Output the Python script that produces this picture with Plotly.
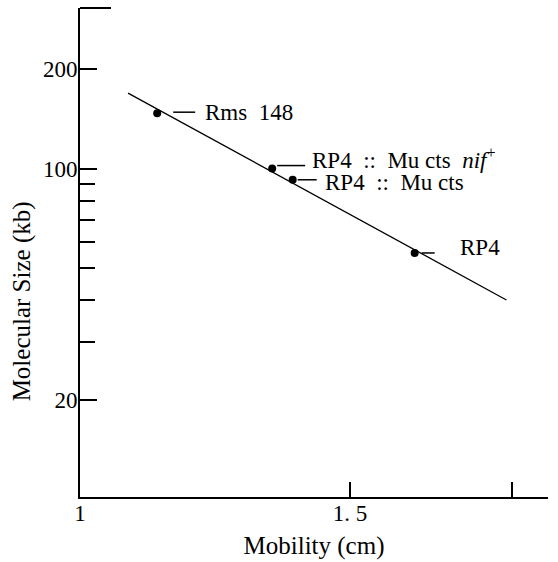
import math
import plotly.graph_objects as go

# Data
mobility = [1.143, 1.356, 1.394, 1.620]
size_kb = [147, 100, 92.5, 55.6]
labels = ["Rms\u00a0\u00a0148",
          "RP4\u00a0\u00a0::\u00a0\u00a0Mu\u00a0cts\u00a0\u00a0<i>nif</i><sup>+</sup>",
          "RP4\u00a0\u00a0::\u00a0\u00a0Mu\u00a0cts",
          "RP4"]
fit_x = [1.089, 1.79]
fit_y = [169, 40.1]
y_ticks = [20, 100, 200]
y_minor = [30, 40, 50, 60, 70, 80, 90]
x_ticks = [1, 1.5]
x_ticktext = ["1", "1. 5"]
x_minor = [1.8]

# label layout offsets (pixels): leader start, leader end, leader dy, text x, text dy
leader = [(16, 38, 1, 46, 1), (5, 33, 3, 38, 10), (5, 24, 0, 30, -3), (7, 20, 0, 43, 5)]

FONT = "Liberation Serif, Times New Roman, serif"

fig = go.Figure()
fig.add_trace(go.Scatter(x=fit_x, y=fit_y, mode="lines",
                         line=dict(color="black", width=1.3), showlegend=False))
fig.add_trace(go.Scatter(x=mobility, y=size_kb, mode="markers",
                         marker=dict(color="black", size=8), showlegend=False))

shapes = []
annotations = []
for xv, yv, lab, (l0, l1, ldy, tx, tdy) in zip(mobility, size_kb, labels, leader):
    shapes.append(dict(type="line", xref="x", yref="y",
                       xsizemode="pixel", ysizemode="pixel",
                       xanchor=xv, yanchor=yv,
                       x0=l0, x1=l1, y0=ldy, y1=ldy,
                       line=dict(color="black", width=1.5)))
    annotations.append(dict(x=xv, y=math.log10(yv), xref="x", yref="y",
                            text=lab, showarrow=False, xanchor="left",
                            yanchor="middle", xshift=tx, yshift=tdy,
                            font=dict(family=FONT, size=23, color="black")))

# cap tick at the top of the y axis
shapes.append(dict(type="line", xref="paper", yref="paper",
                   xsizemode="pixel", xanchor=0, x0=0, x1=31, y0=1, y1=1,
                   line=dict(color="black", width=2)))

annotations.append(dict(text="Molecular Size (kb)", xref="paper", yref="paper",
                        x=-0.124, y=0.40, textangle=-90, showarrow=False,
                        xanchor="center", yanchor="middle",
                        font=dict(family=FONT, size=25, color="black")))

fig.update_layout(
    width=558, height=562,
    margin=dict(l=80, r=10, t=8, b=65),
    paper_bgcolor="white", plot_bgcolor="white",
    font=dict(family=FONT, size=23, color="black"),
    shapes=shapes, annotations=annotations,
    xaxis=dict(range=[1, 1.867], tickvals=x_ticks, ticktext=x_ticktext,
               ticks="inside", ticklen=15, tickwidth=2, tickcolor="black",
               ticklabelstandoff=-6,
               showline=True, linecolor="black", linewidth=1.8,
               showgrid=False, zeroline=False,
               minor=dict(tickvals=x_minor, ticks="inside", ticklen=15,
                          tickwidth=2, tickcolor="black", showgrid=False),
               title=dict(text="Mobility (cm)", font=dict(size=25), standoff=12)),
    yaxis=dict(type="log", range=[1.008, 2.485], tickvals=y_ticks,
               ticktext=[str(v) for v in y_ticks],
               ticks="inside", ticklen=17, tickwidth=2, tickcolor="black",
               ticklabelstandoff=-4,
               showline=True, linecolor="black", linewidth=2,
               showgrid=False, zeroline=False,
               minor=dict(tickvals=y_minor, ticks="inside", ticklen=15,
                          tickwidth=2, tickcolor="black", showgrid=False)),
)

fig.write_html("out.html", config={"displayModeBar": False},
               post_script="document.body.style.margin='0px';")
